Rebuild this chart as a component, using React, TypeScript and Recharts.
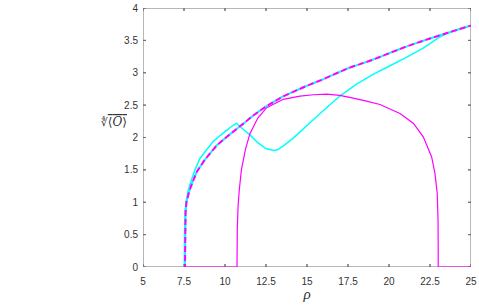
import React from 'react';
import { LineChart, Line, XAxis, YAxis, Label } from 'recharts';

const xTicks = [5, 7.5, 10, 12.5, 15, 17.5, 20, 22.5, 25];
const yTicks = [0, 0.5, 1, 1.5, 2, 2.5, 3, 3.5, 4];

const upperX = [7.56, 7.58, 7.6, 7.65, 7.8, 8.0, 8.3, 8.78, 9.5, 10.3, 11.1, 11.72, 12.5, 13.5, 15, 15.9, 17.5, 19, 20, 21, 22.5, 23.5, 24, 25];
const upperY = [0, 0.5, 0.85, 1.0, 1.15, 1.3, 1.48, 1.66, 1.88, 2.05, 2.21, 2.34, 2.48, 2.63, 2.8, 2.89, 3.07, 3.2, 3.3, 3.4, 3.53, 3.61, 3.65, 3.73];

const cyanX = [7.52, 7.53, 7.56, 7.62, 7.76, 8, 8.2, 8.48, 9, 9.29, 9.7, 10.1, 10.4, 10.7, 11, 11.52, 12, 12.5, 12.95, 13.2, 13.6, 14.16, 15.58, 17, 18, 19, 20, 21, 22, 22.5, 23, 23.5, 24, 25];
const cyanY = [0, 0.5, 0.85, 1.0, 1.19, 1.38, 1.52, 1.68, 1.85, 1.94, 2.03, 2.11, 2.17, 2.22, 2.15, 2.04, 1.92, 1.83, 1.8, 1.81, 1.88, 1.99, 2.32, 2.64, 2.82, 2.97, 3.1, 3.23, 3.37, 3.45, 3.54, 3.6, 3.65, 3.73];

const arcX = [7.56, 10.73, 10.75, 10.8, 10.87, 11, 11.25, 11.52, 12, 12.54, 13.55, 14.57, 15.4, 16.2, 17.0, 17.6, 18.5, 19.45, 20.67, 21.48, 22.09, 22.6, 22.8, 22.94, 22.99, 23.0, 23.0, 25];
const arcY = [0, 0, 0.6, 0.95, 1.19, 1.5, 1.82, 2.06, 2.3, 2.46, 2.59, 2.64, 2.66, 2.67, 2.65, 2.62, 2.57, 2.51, 2.37, 2.22, 2.01, 1.7, 1.45, 1.14, 0.73, 0.3, 0, 0];

const toData = (xs: number[], ys: number[]) => xs.map((x, i) => ({ x, y: ys[i] }));
const upperData = toData(upperX, upperY);
const cyanData = toData(cyanX, cyanY);
const arcData = toData(arcX, arcY);

const X_MIN = 5, X_MAX = 25, Y_MIN = 0, Y_MAX = 4;
// inward tick length expressed in data units (about 3px)
const TICK_Y = 0.046;
const TICK_X = 0.18;

// axes box with inward ticks on all four sides, built from the tick arrays
const frameData: { x: number; y: number }[] = [];
xTicks.forEach((t) => frameData.push({ x: t, y: Y_MIN }, { x: t, y: Y_MIN + TICK_Y }, { x: t, y: Y_MIN }));
yTicks.forEach((t) => frameData.push({ x: X_MAX, y: t }, { x: X_MAX - TICK_X, y: t }, { x: X_MAX, y: t }));
[...xTicks].reverse().forEach((t) => frameData.push({ x: t, y: Y_MAX }, { x: t, y: Y_MAX - TICK_Y }, { x: t, y: Y_MAX }));
[...yTicks].reverse().forEach((t) => frameData.push({ x: X_MIN, y: t }, { x: X_MIN + TICK_X, y: t }, { x: X_MIN, y: t }));

const AXIS = '#707070';
const tickStyle = { fontSize: 10, fill: '#333333', fontFamily: 'Liberation Sans, Arial, sans-serif' };

const YLab = (props: any) => {
  const vb = props.viewBox || {};
  return (
    <text x={vb.x + vb.width - 16} y={126} textAnchor="end" fontFamily="DejaVu Serif, serif" fontSize={12} fill="#333">
      <tspan fontSize={11}>∜</tspan>
      <tspan textDecoration="overline">⟨</tspan>
      <tspan fontStyle="italic" textDecoration="overline">O</tspan>
      <tspan textDecoration="overline">⟩</tspan>
    </text>
  );
};

const XLab = (props: any) => {
  const vb = props.viewBox || {};
  return (
    <text x={vb.x + vb.width / 2} y={299} textAnchor="middle" fontFamily="Liberation Serif, serif" fontStyle="italic" fontSize={15} fill="#333">
      ρ
    </text>
  );
};

export default function App() {
  return (
    <div style={{ position: 'absolute', left: 0, top: 0, background: '#fff' }}>
      <LineChart width={479} height={306} margin={{ top: 8, right: 8, bottom: 19, left: 113 }}>
        <XAxis
          dataKey="x"
          type="number"
          domain={[X_MIN, X_MAX]}
          ticks={xTicks}
          allowDataOverflow
          axisLine={false}
          tickLine={false}
          tickSize={-3}
          tickMargin={14}
          tick={tickStyle}
          height={20}
          interval={0}
        >
          <Label content={<XLab />} />
        </XAxis>
        <YAxis
          dataKey="y"
          type="number"
          domain={[Y_MIN, Y_MAX]}
          ticks={yTicks}
          allowDataOverflow
          axisLine={false}
          tickLine={false}
          tickSize={-3}
          tickMargin={8}
          tick={tickStyle}
          width={30}
          interval={0}
        >
          <Label content={<YLab />} />
        </YAxis>
        <Line data={frameData} dataKey="y" type="linear" stroke={AXIS} strokeWidth={1} dot={false} isAnimationActive={false} />
        <Line data={cyanData} dataKey="y" type="linear" stroke="#00FFFF" strokeWidth={1.5} dot={false} isAnimationActive={false} />
        <Line data={arcData} dataKey="y" type="linear" stroke="#FF00FF" strokeWidth={1.2} dot={false} isAnimationActive={false} />
        <Line data={upperData} dataKey="y" type="linear" stroke="#00FFFF" strokeWidth={2} strokeDasharray="6 3" dot={false} isAnimationActive={false} />
        <Line data={upperData} dataKey="y" type="linear" stroke="#FF00FF" strokeWidth={2} strokeDasharray="6 3" strokeDashoffset={3} dot={false} isAnimationActive={false} />
      </LineChart>
    </div>
  );
}
